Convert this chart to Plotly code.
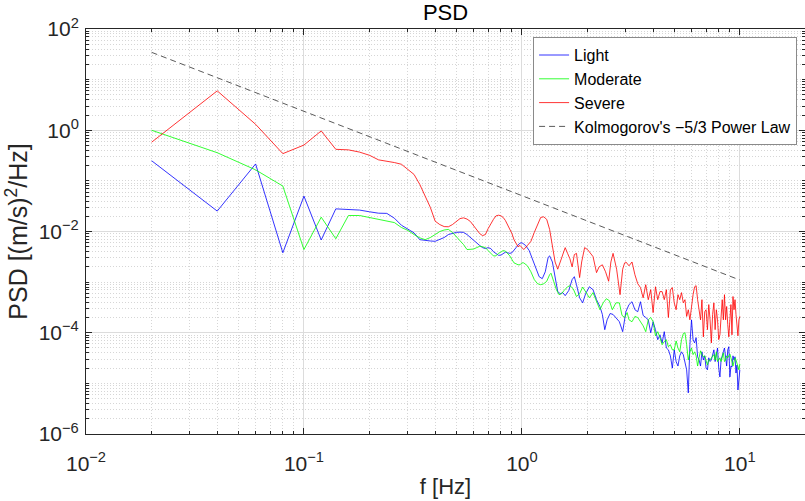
import plotly.graph_objects as go

# ---------------- data ----------------
freq_low = [0.02, 0.04, 0.06, 0.08, 0.10, 0.12, 0.14, 0.16, 0.18, 0.20,
            0.22, 0.24, 0.26, 0.28, 0.30, 0.32, 0.34, 0.36, 0.38, 0.40,
            0.42, 0.44, 0.46, 0.48, 0.50, 0.52, 0.54, 0.56, 0.58, 0.60,
            0.62, 0.64, 0.66, 0.68, 0.70, 0.72, 0.74, 0.76, 0.78, 0.80,
            0.82, 0.84, 0.86, 0.88, 0.90, 0.92, 0.94, 0.96, 0.98, 1.00]

freq_high = [3.1, 3.2, 3.3, 3.4, 3.5, 3.6, 3.7, 3.8, 3.9, 4.0,
             4.1, 4.2, 4.3, 4.4, 4.5, 4.6, 4.7, 4.8, 4.9, 5.0,
             5.1, 5.2, 5.3, 5.4, 5.5, 5.6, 5.7, 5.8, 5.9, 6.0,
             6.1, 6.2, 6.3, 6.4, 6.5, 6.6, 6.7, 6.8, 6.9, 7.0,
             7.1, 7.2, 7.3, 7.4, 7.5, 7.6, 7.7, 7.8, 7.9, 8.0,
             8.1, 8.2, 8.3, 8.4, 8.5, 8.6, 8.7, 8.8, 8.9, 9.0,
             9.1, 9.2, 9.3, 9.4, 9.5, 9.6, 9.7, 9.8, 9.9, 10.0]

# Light
light_low = [0.25, 0.0253, 0.216, 0.0038, 0.050, 0.0068, 0.028, 0.027, 0.0265, 0.0245,
             0.023, 0.0228, 0.0183, 0.0133, 0.0113, 0.0094, 0.0069, 0.0066, 0.0065, 0.0064,
             0.0069, 0.0076, 0.0087, 0.0093, 0.0096, 0.0097, 0.0096, 0.0087, 0.0076, 0.0066,
             0.006, 0.0053, 0.0048, 0.0046, 0.0048, 0.0046, 0.004, 0.0037, 0.0034, 0.0034,
             0.0037, 0.0039, 0.0038, 0.0037, 0.0038, 0.0042, 0.0048, 0.0054, 0.0059, 0.006]
light_mid_f = [1.04, 1.08, 1.12, 1.16, 1.20, 1.24, 1.28, 1.32, 1.34, 1.38,
               1.42, 1.46, 1.50, 1.54, 1.58, 1.64, 1.70, 1.74, 1.78, 1.84,
               1.90, 1.96, 2.04, 2.12, 2.20, 2.28, 2.34, 2.40, 2.46, 2.54,
               2.62, 2.70, 2.80, 2.90, 3.00]
light_mid = [0.0053, 0.0042, 0.0027, 0.0018, 0.00128, 0.00117, 0.0016, 0.0031, 0.0033, 0.0025,
             0.00123, 6.5e-4, 5.9e-4, 6.2e-4, 5.4e-4, 6.8e-4, 1.12e-3, 1.28e-3, 8.9e-4, 4.9e-4,
             3.9e-4, 5.9e-4, 8.1e-4, 7.1e-4, 4.5e-4, 3.3e-4, 2.3e-4, 1.15e-4, 1.8e-4, 2.4e-4,
             2.3e-4, 2.0e-4, 1.65e-4, 1.05e-4, 2.6e-4]
light_high = [3.6e-4, 4.1e-4, 2.85e-4, 2.6e-4, 4.1e-4, 2.2e-4, 2.0e-4, 1.8e-4, 1.0e-4, 1.65e-4,
              1.15e-4, 7.3e-5, 9.1e-5, 6.3e-5, 1.05e-4, 5.0e-5, 4.6e-5, 3.5e-5, 2.0e-5, 4.6e-5,
              2.7e-5, 2.2e-5, 3.5e-5, 4.2e-5, 3.7e-5, 2.7e-5, 1.85e-5, 6.5e-6, 5.8e-5, 1.8e-4,
              7.3e-5, 6.3e-5, 8.0e-5, 3.35e-5, 2.9e-5, 2.2e-5, 4.2e-5, 2.9e-5, 3.5e-5, 2.0e-5,
              1.85e-5, 3.2e-5, 2.7e-5, 2.9e-5, 3.7e-5, 4.6e-5, 2.7e-5, 3.5e-5, 5.0e-5, 2.0e-5,
              1.34e-5, 2.9e-5, 3.7e-5, 4.2e-5, 5.0e-5, 2.9e-5, 2.2e-5, 4.6e-5, 5.3e-5, 1.34e-5,
              2.2e-5, 2.1e-5, 3.5e-5, 2.9e-5, 3.35e-5, 1.6e-5, 2.3e-5, 7.4e-6, 1.5e-5, 1.85e-5]

# Moderate
moderate_low = [1.0, 0.36, 0.165, 0.079, 0.0044, 0.0192, 0.0072, 0.0207, 0.0207, 0.019,
                0.0173, 0.016, 0.015, 0.012, 0.0105, 0.0087, 0.0075, 0.0069, 0.0076, 0.0087,
                0.01, 0.0107, 0.011, 0.0096, 0.0080, 0.0066, 0.0055, 0.0044, 0.0044, 0.0045,
                0.0048, 0.0051, 0.005, 0.0048, 0.0042, 0.0037, 0.0033, 0.0033, 0.0037, 0.0039,
                0.0042, 0.0041, 0.0037, 0.0033, 0.0028, 0.0024, 0.0023, 0.0022, 0.0022, 0.0024]
moderate_mid_f = [1.02, 1.06, 1.10, 1.14, 1.18, 1.22, 1.26, 1.30, 1.34, 1.36,
                  1.40, 1.44, 1.48, 1.52, 1.56, 1.62, 1.66, 1.72, 1.78, 1.84,
                  1.90, 1.96, 2.04, 2.12, 2.20, 2.28, 2.36, 2.44, 2.52, 2.60,
                  2.70, 2.80, 2.88, 2.96, 3.04]
moderate_mid = [0.0024, 0.0021, 0.0016, 0.00112, 9.3e-4, 8.9e-4, 9.3e-4, 1.04e-3, 1.4e-3, 1.5e-3,
                1.02e-3, 7.1e-4, 5.65e-4, 5.9e-4, 6.8e-4, 8.1e-4, 8.5e-4, 7.4e-4, 5.2e-4, 5.9e-4,
                8.0e-4, 6.5e-4, 4.9e-4, 6.2e-4, 4.3e-4, 2.85e-4, 3.9e-4, 4.7e-4, 4.3e-4, 2.85e-4,
                3.9e-4, 3.9e-4, 2.2e-4, 2.0e-4, 2.5e-4]
moderate_high = [1.8e-4, 1.65e-4, 2.1e-4, 2.0e-4, 1.65e-4, 1.37e-4, 1.05e-4, 1.8e-4, 2.0e-4, 1.65e-4,
                 8.7e-5, 1.05e-4, 8.0e-5, 5.8e-5, 6.7e-5, 7.3e-5, 5.3e-5, 5.8e-5, 4.6e-5, 4.6e-5,
                 6.9e-5, 5.0e-5, 4.2e-5, 7.3e-5, 9.6e-5, 1.0e-4, 5.8e-5, 2.9e-5, 4.2e-5, 5.0e-5,
                 3.7e-5, 4.2e-5, 3.5e-5, 2.2e-5, 3.2e-5, 4.4e-5, 3.7e-5, 3.35e-5, 3.5e-5, 2.7e-5,
                 2.3e-5, 2.9e-5, 2.9e-5, 3.2e-5, 3.5e-5, 3.7e-5, 2.9e-5, 4.2e-5, 2.7e-5, 2.9e-5,
                 3.2e-5, 2.7e-5, 3.5e-5, 4.0e-5, 2.7e-5, 2.9e-5, 3.5e-5, 3.2e-5, 3.5e-5, 3.8e-5,
                 3.2e-5, 2.7e-5, 2.2e-5, 2.7e-5, 3.2e-5, 2.9e-5, 2.4e-5, 2.0e-5, 1.85e-5, 2.4e-5]

# Severe
severe_low = [0.58, 6.0, 1.31, 0.345, 0.51, 0.97, 0.42, 0.41, 0.37, 0.32,
              0.26, 0.245, 0.23, 0.213, 0.169, 0.134, 0.085, 0.05, 0.030, 0.016,
              0.0137, 0.0125, 0.0124, 0.0137, 0.0158, 0.018, 0.0186, 0.0176, 0.0158, 0.013,
              0.011, 0.0091, 0.0083, 0.0087, 0.0114, 0.0144, 0.0173, 0.0203, 0.021, 0.0205,
              0.019, 0.0165, 0.0137, 0.011, 0.0091, 0.0069, 0.0058, 0.005, 0.0053, 0.0048]
severe_mid_f = [1.02, 1.06, 1.10, 1.14, 1.18, 1.22, 1.26, 1.30, 1.34, 1.38,
                1.42, 1.46, 1.50, 1.54, 1.58, 1.62, 1.66, 1.70, 1.74, 1.78,
                1.84, 1.88, 1.94, 2.00, 2.04, 2.12, 2.20, 2.26, 2.34, 2.42,
                2.50, 2.56, 2.62, 2.68, 2.72, 2.82, 2.90, 2.96, 3.00]
severe_mid = [0.0044, 0.0053, 0.0064, 0.0096, 0.0137, 0.019, 0.0195, 0.0173, 0.011, 0.0053,
              0.0025, 0.0018, 0.0025, 0.0035, 0.0048, 0.0037, 0.0029, 0.002, 0.0035, 0.0037,
              0.00123, 0.0025, 0.0048, 0.0044, 0.004, 0.0032, 0.00154, 0.002, 0.0022, 0.0016,
              0.00104, 0.0025, 0.0037, 0.0025, 0.0018, 0.000565, 0.0018, 0.0024, 0.0025]
severe_high = [2.1e-3, 2.5e-3, 1.4e-3, 9.3e-4, 7.8e-4, 4.9e-4, 8.9e-4, 4.5e-4, 7.1e-4, 2.5e-4,
               8.1e-4, 4.5e-4, 6.5e-4, 6.5e-4, 4.5e-4, 7.1e-4, 2.0e-4, 7.1e-4, 7.8e-4, 3.9e-4,
               2.85e-4, 5.65e-4, 4.5e-4, 6.2e-4, 3.9e-4, 4.5e-4, 2.1e-4, 2.85e-4, 1.8e-4, 3.6e-4,
               5.65e-4, 8.1e-4, 8.5e-4, 4.5e-4, 2.85e-4, 1.8e-4, 4.5e-4, 8.3e-5, 2.6e-4, 2.85e-4,
               1.15e-4, 3.6e-4, 1.8e-4, 6.3e-5, 2.3e-4, 3.9e-4, 1.15e-4, 2.85e-4, 1.8e-4, 7.3e-5,
               9.1e-5, 2.3e-4, 4.5e-4, 1.8e-4, 5.65e-4, 1.8e-4, 3.3e-4, 1.45e-4, 8.3e-5, 1.8e-4,
               3.6e-4, 9.1e-5, 5.2e-4, 2.85e-4, 4.5e-4, 2.3e-4, 1.15e-4, 8.7e-5, 1.8e-4, 2.1e-4]

# Kolmogorov -5/3 reference line (end points)
kolmo_f = [0.02, 10.0]
kolmo_psd = [34.6, 1.1e-3]

series_names = ["Light", "Moderate", "Severe"]
series_colors = ["#0000ff", "#00ff00", "#ff0000"]
kolmo_name = "Kolmogorov's \u22125/3 Power Law"

x_tick_vals = [0.01, 0.1, 1, 10]
x_tick_text = ["10<sup>\u22122</sup>", "10<sup>\u22121</sup>", "10<sup>0</sup>", "10<sup>1</sup>"]
y_tick_vals = [1e-6, 1e-4, 1e-2, 1, 1e2]
y_tick_text = ["10<sup>\u22126</sup>", "10<sup>\u22124</sup>", "10<sup>\u22122</sup>",
               "10<sup>0</sup>", "10<sup>2</sup>"]

# ---------------- assemble ----------------
for lo, mf, md, hi in [(light_low, light_mid_f, light_mid, light_high),
                       (moderate_low, moderate_mid_f, moderate_mid, moderate_high),
                       (severe_low, severe_mid_f, severe_mid, severe_high)]:
    assert len(lo) == len(freq_low) and len(mf) == len(md) and len(hi) == len(freq_high)

light_f = freq_low + light_mid_f + freq_high
light_psd = light_low + light_mid + light_high
moderate_f = freq_low + moderate_mid_f + freq_high
moderate_psd = moderate_low + moderate_mid + moderate_high
severe_f = freq_low + severe_mid_f + freq_high
severe_psd = severe_low + severe_mid + severe_high

FONT = "Liberation Sans, Arial, sans-serif"
TICKFONT = "Liberation Sans Narrow, Arial Narrow, Liberation Sans, sans-serif"
AX = "#262626"

fig = go.Figure()
for name, color, fx, py in zip(series_names, series_colors,
                               [light_f, moderate_f, severe_f],
                               [light_psd, moderate_psd, severe_psd]):
    fig.add_trace(go.Scatter(x=fx, y=py, mode="lines", name=name,
                             line=dict(color=color, width=0.8)))
fig.add_trace(go.Scatter(x=kolmo_f, y=kolmo_psd, mode="lines", name=kolmo_name,
                         line=dict(color="#5a5a5a", width=1, dash="6px,4px")))

x_minor = [k * 10.0 ** e for e in range(-2, 2) for k in range(2, 10)]
y_minor = [k * 10.0 ** e for e in range(-6, 2) for k in range(2, 10)] + [1e-5, 1e-3, 1e-1, 1e1]

minor_style = dict(tickmode="array", ticks="inside", ticklen=3, tickcolor=AX,
                   showgrid=True, griddash="1px,2px", gridcolor="#d6d6d6", gridwidth=1)

common_axis = dict(type="log", showline=True, linecolor=AX, linewidth=1, mirror="ticks",
                   ticks="inside", ticklen=6, tickcolor=AX, showgrid=True,
                   gridcolor="#dcdcdc", gridwidth=1, zeroline=False, automargin=False,
                   tickfont=dict(size=21, color=AX, family=TICKFONT))

fig.update_xaxes(**common_axis, range=[-2, 1.2989], tickmode="array",
                 tickvals=x_tick_vals, ticktext=x_tick_text, ticklabelstandoff=11,
                 minor=dict(tickvals=x_minor, **minor_style),
                 title=dict(text="f [Hz]", font=dict(size=22, color=AX, family=FONT), standoff=4))
fig.update_yaxes(**common_axis, range=[-6, 2], tickmode="array",
                 tickvals=y_tick_vals, ticktext=y_tick_text, ticklabelstandoff=2,
                 minor=dict(tickvals=y_minor, **minor_style),
                 title=dict(text="PSD [(m/s)<sup>2</sup>/Hz]",
                            font=dict(size=25, color=AX, family=FONT), standoff=3))

fig.update_layout(
    width=805, height=501,
    margin=dict(l=86, r=0, t=29, b=67),
    paper_bgcolor="white", plot_bgcolor="white",
    font=dict(family=FONT, size=16, color=AX),
    title=dict(text="PSD", x=0.5, xref="paper", y=1 - 12.7 / 501, yref="container",
               xanchor="center", yanchor="middle", font=dict(size=22, color="#000000", family=FONT)),
    legend=dict(x=0.989, y=0.98, xanchor="right", yanchor="top", bgcolor="white",
                bordercolor="#8a8a8a", borderwidth=1, font=dict(size=16, color="#000000", family=FONT),
                tracegroupgap=0, itemwidth=30),
    showlegend=True,
)

# remove the default 8px page margin so the 805x501 figure fills the window exactly
fig.write_html("out.html", config={"displayModeBar": False},
               post_script="document.body.style.margin='0';document.body.style.overflow='hidden';")
